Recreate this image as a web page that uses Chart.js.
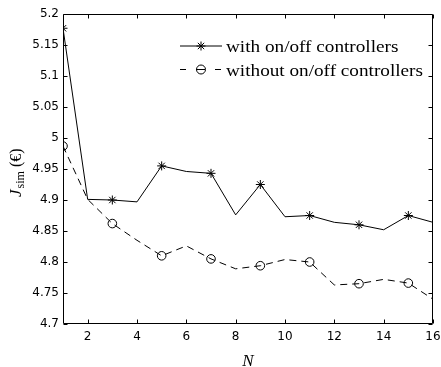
<!DOCTYPE html>
<html>
<head>
<meta charset="utf-8">
<script src="https://cdn.jsdelivr.net/npm/chart.js@4/dist/chart.umd.min.js"></script>
<style>
html,body{margin:0;padding:0;background:#fff;}
#wrap{width:441px;height:367px;}
</style>
</head>
<body>
<div id="wrap"><canvas id="c" width="441" height="367"></canvas></div>
<script>
// ---- data ----
const N = [1, 2, 3, 4, 5, 6, 7, 8, 9, 10, 11, 12, 13, 14, 15, 16];
const withOnOff    = [5.177, 4.901, 4.900, 4.897, 4.955, 4.946, 4.943, 4.876, 4.925, 4.873, 4.875, 4.864, 4.860, 4.852, 4.875, 4.864];
const withoutOnOff = [4.987, 4.901, 4.862, 4.835, 4.810, 4.826, 4.805, 4.789, 4.794, 4.804, 4.800, 4.763, 4.765, 4.772, 4.766, 4.740];
const seriesLabels = ['with on/off controllers', 'without on/off controllers'];
const xTicks = [2, 4, 6, 8, 10, 12, 14, 16];
const yTicks = [4.7, 4.75, 4.8, 4.85, 4.9, 4.95, 5, 5.05, 5.1, 5.15, 5.2];
const xTitle = 'N';
const yTitleMain = 'J', yTitleSub = 'sim', yTitleUnit = ' (\u20AC)';

const markerAt = ctx => (N[ctx.dataIndex] % 2 === 1 ? 1 : 0);

const frameAndTicks = {
  id: 'frameAndTicks',
  afterDatasetsDraw(chart) {
    const {ctx, chartArea: a, scales} = chart;
    const L = Math.round(a.left) + 0.5, R = Math.round(a.right) - 0.5;
    const T = Math.round(a.top) + 0.5, B = Math.round(a.bottom) - 0.5;
    ctx.save();
    ctx.strokeStyle = '#000';
    ctx.lineWidth = 1;
    ctx.beginPath();
    ctx.rect(L, T, R - L, B - T);
    const tl = 4;
    scales.x.ticks.forEach(t => {
      const x = Math.round(scales.x.getPixelForValue(t.value)) + 0.5;
      ctx.moveTo(x, B); ctx.lineTo(x, B - tl);
      ctx.moveTo(x, T); ctx.lineTo(x, T + tl);
    });
    scales.y.ticks.forEach(t => {
      const y = Math.round(scales.y.getPixelForValue(t.value)) + 0.5;
      ctx.moveTo(L, y); ctx.lineTo(L + tl, y);
      ctx.moveTo(R, y); ctx.lineTo(R - tl, y);
    });
    ctx.stroke();

    // x title
    ctx.fillStyle = '#000';
    ctx.font = 'italic 17px "Liberation Serif"';
    ctx.textAlign = 'center';
    ctx.textBaseline = 'alphabetic';
    ctx.fillText(xTitle, (a.left + a.right) / 2, 366);

    // y title (rotated)
    ctx.save();
    ctx.translate(21, 197);
    ctx.rotate(-Math.PI / 2);
    ctx.textAlign = 'left';
    let x = 0;
    ctx.font = 'italic 17px "Liberation Serif"';
    ctx.fillText(yTitleMain, x, 0);
    x += ctx.measureText(yTitleMain).width + 1;
    ctx.font = '12px "Liberation Serif"';
    ctx.fillText(yTitleSub, x, 3);
    x += ctx.measureText(yTitleSub).width;
    ctx.font = '16px "Liberation Serif"';
    ctx.fillText(yTitleUnit, x, 0);
    ctx.restore();

    // legend
    const ds = chart.data.datasets;
    const rows = [46, 69.5];
    ds.forEach((d, i) => {
      const y = rows[i];
      ctx.save();
      ctx.lineWidth = 1;
      ctx.strokeStyle = '#000';
      ctx.fillStyle = 'rgba(0,0,0,0)';
      ctx.beginPath();
      if (i === 0) {
        ctx.moveTo(180, y); ctx.lineTo(222, y);
      } else {
        ctx.moveTo(180, y); ctx.lineTo(186, y);
        ctx.moveTo(215, y); ctx.lineTo(221, y);
        ctx.moveTo(196, y); ctx.lineTo(205, y);
      }
      ctx.stroke();
      Chart.helpers.drawPoint(ctx, {pointStyle: d.pointStyle, radius: 4.5, borderWidth: 1, rotation: 0}, 201, y);
      ctx.restore();
      ctx.save();
      ctx.fillStyle = '#000';
      ctx.font = '16px "Liberation Serif"';
      ctx.textAlign = 'left';
      ctx.textBaseline = 'alphabetic';
      ctx.translate(226, y + 6);
      ctx.scale(1.2, 1);
      ctx.fillText(d.label, 0, 0);
      ctx.restore();
    });
    ctx.restore();
  }
};

new Chart(document.getElementById('c'), {
  type: 'line',
  data: {
    datasets: [
      {
        label: seriesLabels[0],
        data: N.map((n, i) => ({x: n, y: withOnOff[i]})),
        borderColor: '#000',
        borderWidth: 1,
        pointStyle: 'star',
        pointRadius: ctx => 4.5 * markerAt(ctx),
        pointBorderColor: '#000',
        pointBorderWidth: 1,
        backgroundColor: 'transparent',
        tension: 0
      },
      {
        label: seriesLabels[1],
        data: N.map((n, i) => ({x: n, y: withoutOnOff[i]})),
        borderColor: '#000',
        borderWidth: 1,
        borderDash: [7, 5],
        pointStyle: 'circle',
        pointRadius: ctx => 4.3 * markerAt(ctx),
        pointBorderColor: '#000',
        pointBorderWidth: 1,
        pointBackgroundColor: 'transparent',
        backgroundColor: 'transparent',
        tension: 0
      }
    ]
  },
  options: {
    responsive: false,
    animation: false,
    devicePixelRatio: 1,
    layout: {padding: {left: 0, top: 14, right: 8, bottom: 0}},
    plugins: {legend: {display: false}, tooltip: {enabled: false}},
    elements: {point: {hoverRadius: 0}},
    scales: {
      x: {
        type: 'linear',
        min: 1, max: 16,
        afterBuildTicks: s => { s.ticks = xTicks.map(v => ({value: v})); },
        afterFit: s => { s.height = 43; s.paddingLeft = 0; s.paddingRight = 0; },
        grid: {display: false, drawTicks: false},
        border: {display: false},
        ticks: {
          color: '#000',
          padding: 6,
          maxRotation: 0,
          autoSkip: false,
          font: {family: 'DejaVu Sans', size: 12}
        }
      },
      y: {
        type: 'linear',
        min: 4.7, max: 5.2,
        afterBuildTicks: s => { s.ticks = yTicks.map(v => ({value: v})); },
        afterFit: s => { s.width = 63; s.paddingTop = 0; s.paddingBottom = 0; },
        grid: {display: false, drawTicks: false},
        border: {display: false},
        ticks: {
          color: '#000',
          padding: 4,
          autoSkip: false,
          font: {family: 'DejaVu Sans', size: 12},
          callback: v => String(parseFloat(Number(v).toFixed(2)))
        }
      }
    }
  },
  plugins: [frameAndTicks]
});
</script>
</body>
</html>
